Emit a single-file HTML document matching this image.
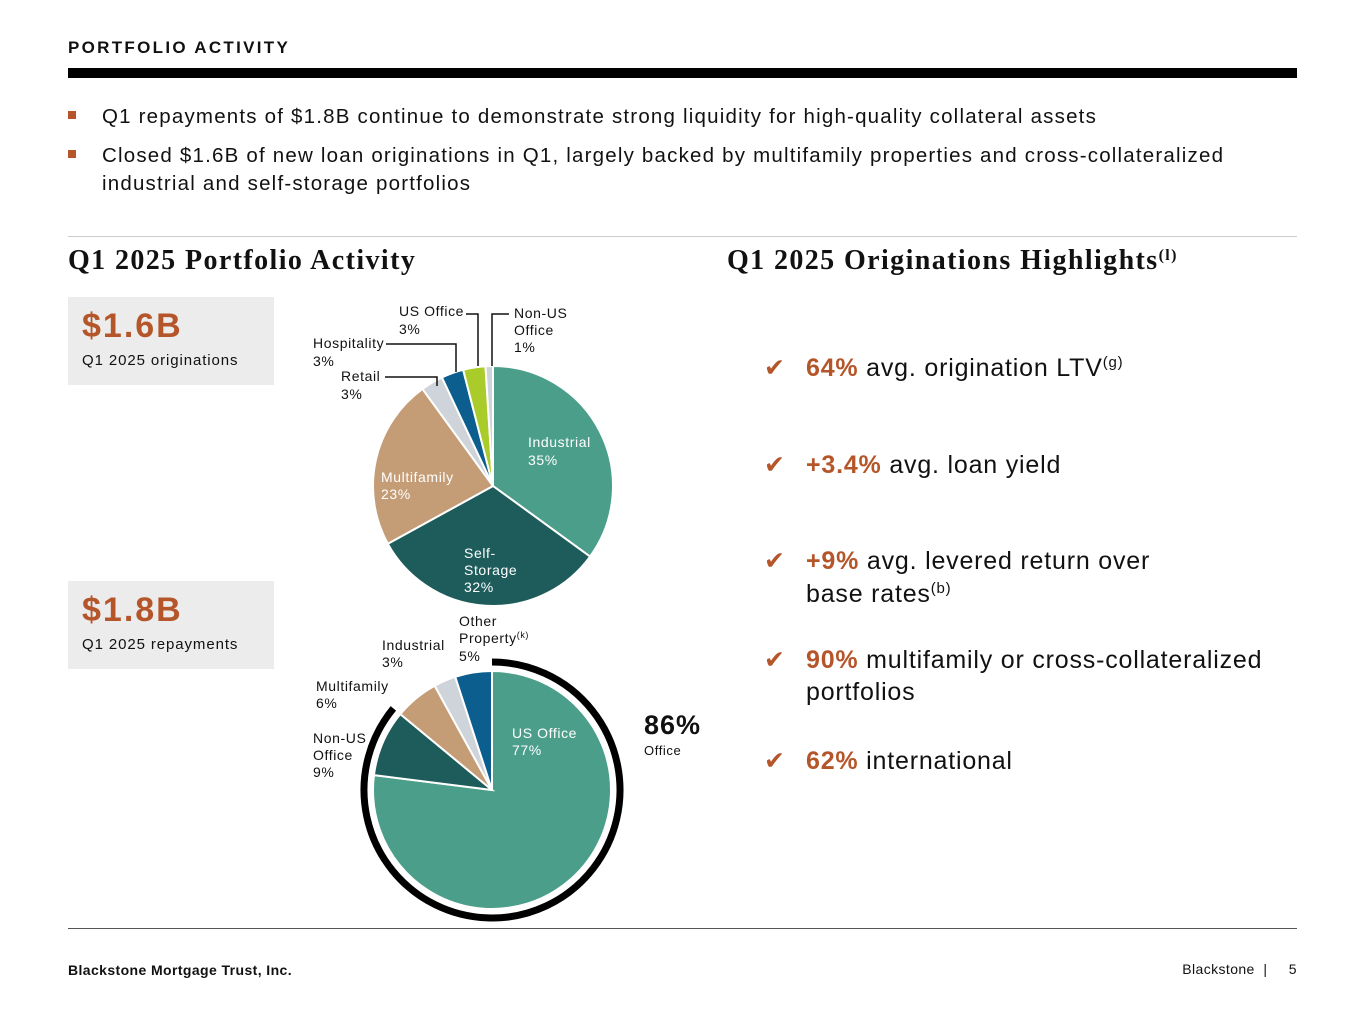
<!DOCTYPE html>
<html><head><meta charset="utf-8">
<style>
body{margin:0;width:1365px;height:1024px;background:#fff;position:relative;font-family:"Liberation Sans",sans-serif;color:#111;overflow:hidden}
.a{position:absolute;white-space:nowrap}
.o{color:#b5562a;font-weight:bold}
.chk{color:#b5562a;font-size:25px;font-family:"DejaVu Sans",sans-serif;display:inline-block;width:42px}
.hl{font-size:25px;line-height:32px;letter-spacing:0.8px}
sup{font-size:15px;vertical-align:9px;line-height:0}
.ser{font-family:"Liberation Serif",serif;font-weight:bold;font-size:28px;letter-spacing:1.4px}
.bl{font-size:20.5px;letter-spacing:1.2px}
</style></head><body>
<div class="a" style="left:68px;top:38px;font-size:17px;font-weight:bold;letter-spacing:2.3px">PORTFOLIO ACTIVITY</div>
<div class="a" style="left:68px;top:68px;width:1229px;height:10px;background:#000"></div>
<div class="a bl" style="left:68px;top:105px"><span style="display:inline-block;width:8px;height:8px;background:#b5562a;vertical-align:4px;margin-right:26px"></span>Q1 repayments of $1.8B continue to demonstrate strong liquidity for high-quality collateral assets</div>
<div class="a bl" style="left:68px;top:142px;line-height:28px"><span style="display:inline-block;width:8px;height:8px;background:#b5562a;vertical-align:4px;margin-right:26px"></span>Closed $1.6B of new loan originations in Q1, largely backed by multifamily properties and cross-collateralized<br><span style="margin-left:34px">industrial and self-storage portfolios</span></div>
<div class="a" style="left:68px;top:236px;width:1229px;height:1px;background:#ccc"></div>
<div class="a ser" style="left:68px;top:245px">Q1 2025 Portfolio Activity</div>
<div class="a ser" style="left:727px;top:245px">Q1 2025 Originations Highlights<sup style="font-size:16px">(l)</sup></div>

<div class="a" style="left:68px;top:297px;width:206px;height:88px;background:#ececec">
<div class="a o" style="left:14px;top:10px;font-size:34px;letter-spacing:2px">$1.6B</div>
<div class="a" style="left:14px;top:55px;font-size:15px;letter-spacing:0.9px">Q1 2025 originations</div></div>
<div class="a" style="left:68px;top:581px;width:206px;height:88px;background:#ececec">
<div class="a o" style="left:14px;top:10px;font-size:34px;letter-spacing:2px">$1.8B</div>
<div class="a" style="left:14px;top:55px;font-size:15px;letter-spacing:0.9px">Q1 2025 repayments</div></div>

<svg class="a" style="left:0;top:0" width="1365" height="1024">
<g id="pie1"></g><g id="pie2"></g>
<g stroke="#111" stroke-width="1.5" fill="none">
<polyline points="385,377 437,377 437,386"/>
<polyline points="386,344 456,344 456,372"/>
<polyline points="466,314 478,314 478,366"/>
<polyline points="509,314 492,314 492,366"/>
</g>
<g font-family="Liberation Sans,sans-serif" font-size="14" fill="#111" letter-spacing="0.6">
<text x="313" y="348">Hospitality</text><text x="313" y="366">3%</text>
<text x="341" y="381">Retail</text><text x="341" y="399">3%</text>
<text x="399" y="316">US Office</text><text x="399" y="334">3%</text>
<text x="514" y="318">Non-US</text><text x="514" y="335">Office</text><text x="514" y="352">1%</text>
<g fill="#fff"><text x="528" y="447">Industrial</text><text x="528" y="465">35%</text>
<text x="381" y="482">Multifamily</text><text x="381" y="499">23%</text>
<text x="464" y="558">Self-</text><text x="464" y="575">Storage</text><text x="464" y="592">32%</text>
<text x="512" y="738">US Office</text><text x="512" y="755">77%</text></g>
<text x="459" y="626">Other</text><text x="459" y="643">Property<tspan font-size="9" dy="-5">(k)</tspan></text><text x="459" y="661">5%</text>
<text x="382" y="650">Industrial</text><text x="382" y="667">3%</text>
<text x="316" y="691">Multifamily</text><text x="316" y="708">6%</text>
<text x="313" y="743">Non-US</text><text x="313" y="760">Office</text><text x="313" y="777">9%</text>
<text x="644" y="734" font-size="27" font-weight="bold" letter-spacing="1">86%</text>
<text x="644" y="755" font-size="13">Office</text>
</g>
</svg>

<div class="a hl" style="left:764px;top:352px"><span class="chk">✔</span><span class="o">64%</span> avg. origination LTV<sup>(g)</sup></div>
<div class="a hl" style="left:764px;top:449px"><span class="chk">✔</span><span class="o">+3.4%</span> avg. loan yield</div>
<div class="a hl" style="left:764px;top:544px;line-height:33px"><span class="chk">✔</span><span class="o">+9%</span> avg. levered return over<br><span style="margin-left:42px">base rates<sup>(b)</sup></span></div>
<div class="a hl" style="left:764px;top:644px"><span class="chk">✔</span><span class="o">90%</span> multifamily or cross-collateralized<br><span style="margin-left:42px">portfolios</span></div>
<div class="a hl" style="left:764px;top:745px"><span class="chk">✔</span><span class="o">62%</span> international</div>

<div class="a" style="left:68px;top:928px;width:1229px;height:1px;background:#555"></div>
<div class="a" style="left:68px;top:962px;font-size:14px;font-weight:bold;letter-spacing:0.4px">Blackstone Mortgage Trust, Inc.</div>
<div class="a" style="right:68px;top:961px;font-size:14px;letter-spacing:0.4px">Blackstone &nbsp;| &nbsp;&nbsp;&nbsp;&nbsp;5</div>

<script>
const orgCats=["Industrial","Self-Storage","Multifamily","Retail","Hospitality","US Office","Non-US Office"];
const orgVals=[35,32,23,3,3,3,1];
const orgColors=["#4b9e8a","#1d5c5a","#c49c76","#cfd3da","#0b5e8e","#a9cc2b","#cfd3da"];
const repCats=["US Office","Non-US Office","Multifamily","Industrial","Other Property"];
const repVals=[77,9,6,3,5];
const repColors=["#4b9e8a","#1d5c5a","#c49c76","#cfd3da","#0b5e8e"];
const officeShare=86;
const NS="http://www.w3.org/2000/svg";
function pt(cx,cy,r,f){const a=f*2*Math.PI;return [cx+r*Math.sin(a),cy-r*Math.cos(a)];}
function pie(gid,cx,cy,r,vals,cats,cols){
  const g=document.getElementById(gid);const tot=vals.reduce((a,b)=>a+b,0);let c=0;
  vals.forEach((v,i)=>{const f0=c/tot,f1=(c+v)/tot;c+=v;
    const p0=pt(cx,cy,r,f0),p1=pt(cx,cy,r,f1);
    const p=document.createElementNS(NS,"path");
    p.setAttribute("d",`M${cx},${cy}L${p0[0]},${p0[1]}A${r},${r} 0 ${f1-f0>0.5?1:0} 1 ${p1[0]},${p1[1]}Z`);
    p.setAttribute("fill",cols[i]);p.setAttribute("stroke","#fff");p.setAttribute("stroke-width","2");
    
    
    g.appendChild(p);});
}
pie("pie1",493,486,120,orgVals,orgCats,orgColors);
pie("pie2",492,790,119,repVals,repCats,repColors);
(function(){const g=document.getElementById("pie2");const r=128,f=officeShare/100;
 const p0=pt(492,790,r,0),p1=pt(492,790,r,f);
 const p=document.createElementNS(NS,"path");
 p.setAttribute("d",`M${p0[0]},${p0[1]}A${r},${r} 0 ${f>0.5?1:0} 1 ${p1[0]},${p1[1]}`);
 p.setAttribute("fill","none");p.setAttribute("stroke","#000");p.setAttribute("stroke-width","7");
 
 
 g.appendChild(p);})();
</script>
</body></html>
